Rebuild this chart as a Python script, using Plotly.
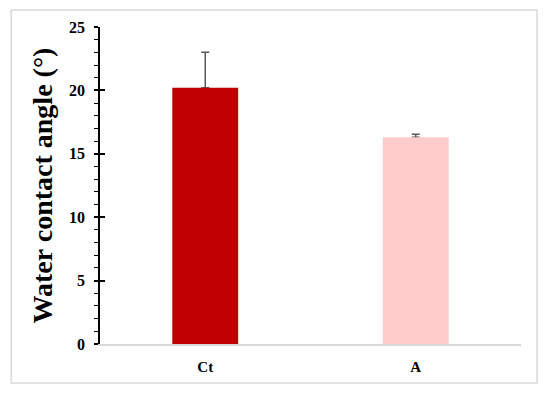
import plotly.graph_objects as go

categories = ["Ct", "A"]
values = [20.2, 16.3]
errors = [2.8, 0.25]
colors = ["#C00000", "#FFCCCC"]
y_ticks = [0, 5, 10, 15, 20, 25]

font_family = "Liberation Serif"

fig = go.Figure()
# error bars on base axis (drawn below the bars, so only the upper whisker shows)
fig.add_trace(go.Scatter(
    x=categories, y=values, yaxis="y", mode="markers",
    marker=dict(opacity=0), hoverinfo="skip", showlegend=False,
    error_y=dict(type="data", array=errors, arrayminus=[0, 0], symmetric=False,
                 color="#595959", thickness=1.5, width=4),
))
# bars on the overlaying axis (drawn on top)
fig.add_trace(go.Bar(
    x=categories, y=values, yaxis="y2",
    marker=dict(color=colors, line=dict(width=0)),
    width=0.313, showlegend=False,
))

fig.update_layout(
    width=550, height=394,
    margin=dict(l=100, r=29, t=27, b=50, autoexpand=False),
    paper_bgcolor="white", plot_bgcolor="white",
    showlegend=False,
    font=dict(family=font_family, color="black"),
    xaxis=dict(
        showline=True, linecolor="#D9D9D9", linewidth=1.5,
        ticks="", showgrid=False, automargin=False,
        tickvals=categories, ticktext=["<b>%s</b>" % c for c in categories],
        tickfont=dict(family=font_family, size=15, color="black"),
        ticklabelstandoff=8,
    ),
    yaxis=dict(
        range=[0, 25], tick0=0, dtick=5, automargin=False,
        tickvals=y_ticks, ticktext=["<b>%d</b>" % v for v in y_ticks],
        showline=True, linecolor="black", linewidth=1.5,
        ticks="outside", ticklen=4, tickwidth=1.5, tickcolor="black",
        minor=dict(dtick=1, ticks="outside", ticklen=4, tickwidth=1.2, tickcolor="black"),
        showgrid=False, zeroline=False,
        tickfont=dict(family=font_family, size=16, color="black"),
        ticklabelstandoff=6,
        title=dict(text="<b>Water contact angle (°)</b>",
                   font=dict(family=font_family, size=28, color="black"),
                   standoff=8),
    ),
    yaxis2=dict(
        range=[0, 25], tick0=0, dtick=5, overlaying="y", side="left",
        showline=False, ticks="inside", ticklen=5, tickwidth=1.5, tickcolor="black",
        showticklabels=False, showgrid=False, zeroline=False, automargin=False,
    ),
    shapes=[dict(type="rect", xref="paper", yref="paper",
                 x0=-0.211, x1=1.038, y0=-0.123, y1=1.054,
                 line=dict(color="#D9D9D9", width=1.5), fillcolor="rgba(0,0,0,0)", layer="below")],
)

fig.write_html("out.html", config={"displayModeBar": False},
               post_script="document.body.style.margin='0';")
